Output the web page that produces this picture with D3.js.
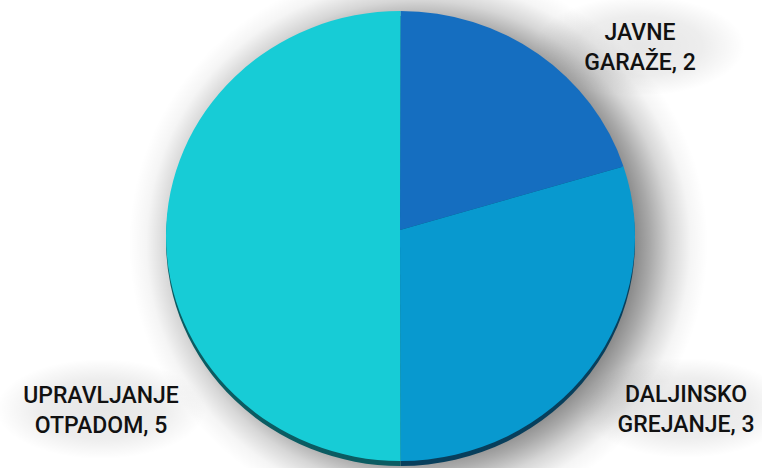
<!DOCTYPE html>
<html>
<head>
<meta charset="utf-8">
<script src="https://cdn.jsdelivr.net/npm/d3@7/dist/d3.min.js"></script>
<style>
html,body{margin:0;padding:0;background:#fff;}
svg{display:block;}
</style>
</head>
<body>
<svg id="chart" width="762" height="468"></svg>
<script>
const categories = ["JAVNE GARAŽE", "DALJINSKO GREJANJE", "UPRAVLJANJE OTPADOM"];
const labelLines = [["JAVNE", "GARAŽE, 2"], ["DALJINSKO", "GREJANJE, 3"], ["UPRAVLJANJE", "OTPADOM, 5"]];
const values = [2, 3, 5];
const faceColors = ["#156ec0", "#0899cf", "#17ccd6"];
const edgeColors = ["#0a3f6a", "#083f5c", "#0b5c62"];

const W = 762, H = 468;
const svg = d3.select("#chart");
const defs = svg.append("defs");

// geometry of the tilted pie
const cx = 400, cy = 230;          // slice apex
const ex = 400.5, ey = 236;        // ellipse centre
const rx = 234.5, ry = 225;
const depth = 5;

// soft shadow as radial gradient
const spread = 55;
const g = defs.append("radialGradient").attr("id", "shadowGrad");
[[0, 0.55], [0.72, 0.52], [0.8, 0.34], [0.87, 0.16], [0.94, 0.04], [1, 0]]
  .forEach(s => g.append("stop").attr("offset", s[0]).attr("stop-color", "#000").attr("stop-opacity", s[1]));

const hg = defs.append("radialGradient").attr("id", "haloGrad");
[[0, 0.10], [0.6, 0.07], [1, 0]]
  .forEach(s => hg.append("stop").attr("offset", s[0]).attr("stop-color", "#000").attr("stop-opacity", s[1]));

const pie = d3.pie().sort(null).value(d => d)
  .startAngle(0).endAngle(2 * Math.PI);
const arcs = pie(values);

const pt = (a, dy = 0) => [ex + rx * Math.sin(a), ey - ry * Math.cos(a) + dy];
function slicePath(d, dy = 0) {
  const p0 = pt(d.startAngle, dy), p1 = pt(d.endAngle, dy);
  const large = (d.endAngle - d.startAngle) > Math.PI ? 1 : 0;
  return `M${cx},${cy + dy}L${p0[0]},${p0[1]}A${rx},${ry} 0 ${large} 1 ${p1[0]},${p1[1]}Z`;
}

// drop shadow
svg.append("ellipse")
  .attr("cx", ex + 18).attr("cy", ey + 8)
  .attr("rx", rx + spread).attr("ry", ry + spread)
  .attr("fill", "url(#shadowGrad)");

const fontFam = "Roboto,'Liberation Sans',sans-serif";
const labelPos = [[640, 40], [686, 402], [101, 403]];

// text halos
labelPos.forEach(p => {
  svg.append("ellipse")
    .attr("cx", p[0]).attr("cy", p[1] + 6)
    .attr("rx", 105).attr("ry", 50)
    .attr("fill", "url(#haloGrad)");
});

// side (depth)
svg.append("g").selectAll("path").data(arcs).join("path")
  .attr("d", d => slicePath(d, depth))
  .attr("fill", (d, i) => edgeColors[i]);

// face
svg.append("g").selectAll("path").data(arcs).join("path")
  .attr("d", d => slicePath(d, 0))
  .attr("fill", (d, i) => faceColors[i]);

// labels
const lg = svg.append("g")
  .attr("font-family", fontFam)
  .attr("font-size", 23)
  .attr("font-weight", 500)
  .attr("fill", "#111")
  .attr("text-anchor", "middle");
labelLines.forEach((lines, i) => {
  const t = lg.append("text").attr("x", labelPos[i][0]).attr("y", labelPos[i][1]);
  lines.forEach((l, j) => {
    t.append("tspan").attr("x", labelPos[i][0]).attr("dy", j === 0 ? 0 : 30).text(l);
  });
});
</script>
</body>
</html>
